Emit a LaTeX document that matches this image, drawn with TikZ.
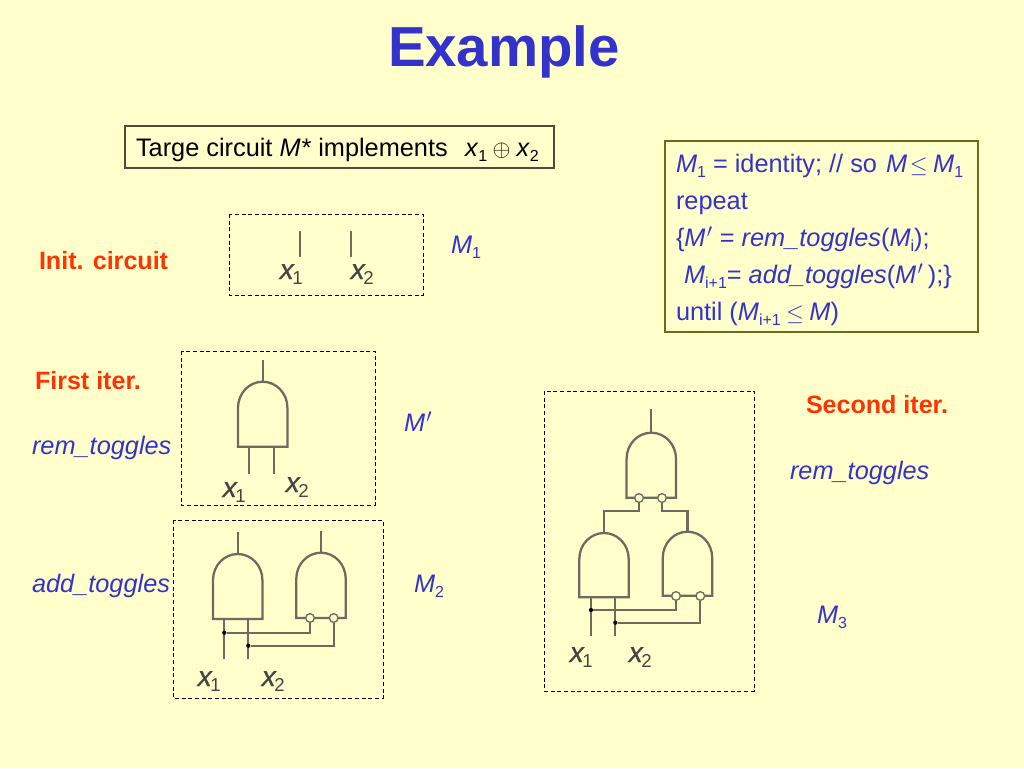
\documentclass[tikz,border=0pt]{standalone}
\usepackage{fontspec}
\setmainfont{Liberation Sans}
\newfontfamily\labf[FakeBold=0.5,FakeSlant=0.2]{Liberation Sans}
\definecolor{bgc}{HTML}{FFFFCC}
\definecolor{ttl}{HTML}{3333CC}
\definecolor{redt}{HTML}{FF3300}
\definecolor{wirec}{HTML}{6B6B60}
\definecolor{boxc}{HTML}{6B6B20}
\definecolor{labc}{HTML}{444444}
\newcommand{\lowr}[1]{\raisebox{-0.22em}{\fontsize{12pt}{12pt}\selectfont\upshape #1}}
\newcommand{\labsub}[1]{\raisebox{-0.2em}{\rmfamily\fontsize{14pt}{14pt}\selectfont #1}}
\newcommand{\prm}{\kern1pt$'$}
\newcommand{\leqs}{$\leq$}
\tikzset{
  x=0.75pt,y=-0.75pt,
  body/.style={anchor=base west,inner sep=0pt,outer sep=0pt,font=\fontsize{19pt}{19pt}\selectfont},
  blue text/.style={body,text=ttl},
  red text/.style={body,text=redt,font=\fontsize{18.8pt}{19pt}\selectfont\bfseries},
  inlab/.style={anchor=base west,inner sep=0pt,text=labc,font=\fontsize{21pt}{21pt}\selectfont\labf},
  dashbox/.style={draw=black,dash pattern=on 3pt off 2pt,line width=0.75pt},
  wire/.style={draw=wirec,line width=1.7pt},
  thinwire/.style={draw=wirec,line width=1.3pt},
  bubble/.style={circle,draw=wirec,fill=bgc,line width=1pt,minimum size=6.5pt,inner sep=0pt},
  tapdot/.style={circle,fill=black,minimum size=3.2pt,inner sep=0pt},
  solidbox/.style={draw=boxc,line width=1pt}
}
% \gate{name}{centre x}{top y}{bottom y}{output end y}
\newcommand{\gate}[5]{%
  \coordinate (#1-top) at (#2,#3);
  \coordinate (#1-out) at (#2,#5);
  \coordinate (#1-bot) at (#2,#4);
  \draw[wire,line join=miter] (#2-24.7,#3+26) arc[start angle=180,end angle=0,x radius=24.7,y radius=-26]
    -- (#2+24.7,#4) -- (#2-24.7,#4) -- cycle;
  \draw[wire] (#1-top) -- (#1-out);
}
\begin{document}
\begin{tikzpicture}
\useasboundingbox (0,0) rectangle (1024,768);
\fill[bgc] (0,0) rectangle (1024,768);
\node[anchor=base,inner sep=0pt,text=ttl,font=\fontsize{42.3pt}{42.3pt}\selectfont\bfseries] (title) at (504,66) {Example};

% target box
\draw[solidbox,draw=black!70!bgc] (125,126) rectangle (554,168);
\node[body] (target) at (136,156) {Targe circuit \textit{M*} implements};
\node[body] (xor) at (465,156) {\textit{x}\lowr{1}\kern4pt$\oplus$\kern4.5pt\textit{x}\lowr{2}};

% algorithm box
\draw[solidbox] (665,141) rectangle (978,332);
\node[blue text] (a1) at (676,172) {\textit{M}\lowr{1} = identity; // so \kern1.5pt\textit{M}\kern2pt\leqs\kern4pt\textit{M}\lowr{1}};
\node[blue text] (a2) at (676,209) {repeat};
\node[blue text] (a3) at (676,246) {\{\textit{M}\prm\ = \textit{rem\_toggles}(\textit{M}\lowr{i});};
\node[blue text] (a4) at (684,283) {\textit{M}\lowr{i+1}= \textit{add\_toggles}(\textit{M}\prm\,);\}};
\node[blue text] (a5) at (676,320) {until (\textit{M}\lowr{i+1}\kern4pt\leqs\kern4pt\textit{M})};

% left labels
\node[red text] (l1) at (39,269) {Init. circuit};
\node[red text] (l2) at (35,389) {First iter.};
\node[red text] (l3) at (806,413) {Second iter.};
\node[blue text] (r1) at (32,454) {\textit{rem\_toggles}};
\node[blue text] (r2) at (32,592) {\textit{add\_toggles}};
\node[blue text] (r3) at (790,479) {\textit{rem\_toggles}};
\node[blue text] (m1) at (451,253) {\textit{M}\lowr{1}};
\node[blue text] (mp) at (404,431) {\textit{M}\prm};
\node[blue text] (m2) at (414,592) {\textit{M}\lowr{2}};
\node[blue text] (m3) at (817,623) {\textit{M}\lowr{3}};

% dashed boxes
\draw[dashbox] (229,214) rectangle (423,295);
\draw[dashbox] (181,351) rectangle (375,505);
\draw[dashbox] (173,520) rectangle (383,698);
\draw[dashbox] (544,391) rectangle (754,691);

% init circuit
\coordinate (i1t) at (300,231); \coordinate (i1b) at (300,257);
\coordinate (i2t) at (351,231); \coordinate (i2b) at (351,257);
\draw[wire] (i1t) -- (i1b);
\draw[wire] (i2t) -- (i2b);
\node[inlab] (ix1) at (278,279) {x\labsub{1}};
\node[inlab] (ix2) at (349,279) {x\labsub{2}};

% M'
\gate{g}{262.7}{381.7}{446.7}{360}
\coordinate (g1) at (249.3,446.7); \coordinate (g1e) at (249.3,474);
\coordinate (g2) at (274,446.7); \coordinate (g2e) at (274,474);
\draw[wire] (g1) -- (g1e);
\draw[wire] (g2) -- (g2e);
\node[inlab] (gx1) at (221,497) {x\labsub{1}};
\node[inlab] (gx2) at (284,492) {x\labsub{2}};

% M2
\gate{a}{237.7}{554}{619}{531.7}
\gate{b}{321}{552.7}{618}{531}
\coordinate (a1i) at (224.3,619); \coordinate (a1e) at (224.3,659);
\coordinate (a2i) at (248.3,619); \coordinate (a2e) at (248.3,659);
\draw[wire] (a1i) -- (a1e);
\draw[wire] (a2i) -- (a2e);
\node[tapdot] (ad1) at (224.3,632.7) {};
\node[tapdot] (ad2) at (248.3,645.7) {};
\node[bubble] (ab1) at (310,618) {};
\node[bubble] (ab2) at (333.7,618) {};
\draw[thinwire] (ad1) -- (ad1 -| ab1) -- (ab1);
\draw[thinwire] (ad2) -- (ad2 -| ab2) -- (ab2);
\node[inlab] (ax1) at (196,686) {x\labsub{1}};
\node[inlab] (ax2) at (260,686) {x\labsub{2}};

% M3
\gate{c}{651.3}{432.7}{497.7}{409}
\gate{d}{604}{533}{597.3}{533}
\gate{e}{687.5}{531.7}{595.7}{531.7}
\node[bubble] (cb1) at (639,498) {};
\node[bubble] (cb2) at (662,498) {};
\coordinate (cm) at (650,511);
\draw[wire] (cb1) -- (cb1 |- cm) -- (d-top |- cm) -- (d-top);
\draw[wire] (cb2) -- (cb2 |- cm) -- (e-top |- cm) -- (e-top);
\coordinate (d1i) at (591,597.3); \coordinate (d1e) at (591,636);
\coordinate (d2i) at (615.3,597.3); \coordinate (d2e) at (615.3,636);
\draw[wire] (d1i) -- (d1e);
\draw[wire] (d2i) -- (d2e);
\node[tapdot] (dd1) at (591,610) {};
\node[tapdot] (dd2) at (615.3,622.7) {};
\node[bubble] (eb1) at (676,596) {};
\node[bubble] (eb2) at (700.3,596) {};
\draw[thinwire] (dd1) -- (dd1 -| eb1) -- (eb1);
\draw[thinwire] (dd2) -- (dd2 -| eb2) -- (eb2);
\node[inlab] (dx1) at (568,662) {x\labsub{1}};
\node[inlab] (dx2) at (627,662) {x\labsub{2}};
\end{tikzpicture}
\end{document}
